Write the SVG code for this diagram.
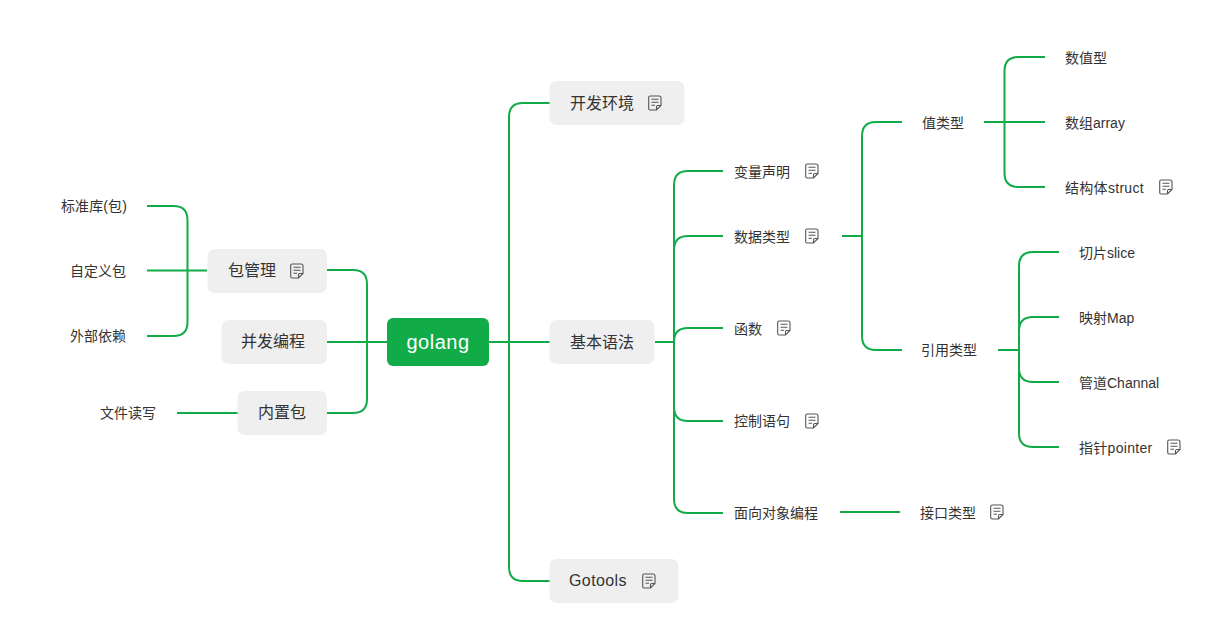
<svg xmlns="http://www.w3.org/2000/svg" width="1228" height="627" viewBox="0 0 1228 627">
<style>
text{font-family:"Liberation Sans","Noto Sans CJK SC",sans-serif;fill:#333;dominant-baseline:central}
.l1{font-size:16px}
.l2{font-size:14px}
.wide{letter-spacing:.3px}
.box{fill:#efefef}
.c{fill:none;stroke:#11ab47;stroke-width:2}
.ic{fill:none;stroke:#555;stroke-width:1.1}
</style>
<defs>
<g id="note">
<path class="ic" d="M-4.800-7H4Q6-7 6-5V2.500L1.500 7H-4.800Q-6.300 7-6.300 5.500V-5.500Q-6.300-7-4.800-7ZM-3.500-3.800H3.500M-3.500-.8H3.500M-3.500 2.200H0M6 2.500H2.800Q1.500 2.500 1.500 3.800V7"/>
</g>
</defs>
<rect width="1228" height="627" fill="#fff"/>
<g id="connectors">
<path class="c" d="M489 342H550M509 342V117Q509 103 523 103H550M509 342V567Q509 581 523 581H550"/>
<path class="c" d="M387 342H327M367 342V284Q367 270 353 270H327M367 342V399Q367 413 353 413H327"/>
<path class="c" d="M207 270.500H147M187.500 270.500V220Q187.500 206 173.500 206H147M187.500 270.500V322Q187.500 336 173.500 336H147M238 413H177"/>
<path class="c" d="M655 342H674M674 342V185Q674 171 688 171H723M674 342V250Q674 236 688 236H723M674 342Q674 328 688 328H723M674 342V407Q674 421 688 421H723M674 342V499Q674 513 688 513H723"/>
<path class="c" d="M842 236H862M862 236V136Q862 122 876 122H902M862 236V336Q862 350 876 350H902M840 512H900"/>
<path class="c" d="M984 122H1045M1004.500 122V71Q1004.500 57 1018.500 57H1045M1004.500 122V173Q1004.500 187 1018.500 187H1045"/>
<path class="c" d="M998 350H1019M1019 350V266Q1019 252 1033 252H1059M1019 350V331Q1019 317 1033 317H1059M1019 350V368Q1019 382 1033 382H1059M1019 350V433Q1019 447 1033 447H1059"/>
</g>
<g id="golang"><rect x="387" y="318" width="102" height="48" rx="6" fill="#11ab47"/><text x="438" y="342" font-size="20" letter-spacing=".5" text-anchor="middle" style="fill:#fff">golang</text></g>
<g id="kaifa"><rect class="box" x="549.500" y="81" width="135" height="44" rx="7"/><text class="l1" x="570" y="103">开发环境</text><use href="#note" x="655" y="103"/></g>
<g id="jiben"><rect class="box" x="549.500" y="320" width="105" height="44" rx="7"/><text class="l1" x="570" y="342">基本语法</text></g>
<g id="gotools"><rect class="box" x="549.500" y="559" width="129" height="44" rx="7"/><text class="l1" x="569" y="580" letter-spacing=".4">Gotools</text><use href="#note" x="649" y="581"/></g>
<g id="baoguanli"><rect class="box" x="207.500" y="249" width="119.500" height="44" rx="7"/><text class="l1" x="228" y="270">包管理</text><use href="#note" x="297" y="271"/></g>
<g id="bingfa"><rect class="box" x="221.500" y="320" width="105.500" height="44" rx="7"/><text class="l1" x="241" y="341">并发编程</text></g>
<g id="neizhi"><rect class="box" x="237.500" y="391" width="89.500" height="44" rx="7"/><text class="l1" x="258" y="412">内置包</text></g>
<g id="biaozhunku"><text class="l2" x="61" y="205.500" letter-spacing=".1">标准库(包)</text></g>
<g id="zidingyi"><text class="l2" x="70" y="271">自定义包</text></g>
<g id="waibu"><text class="l2" x="70" y="336">外部依赖</text></g>
<g id="wenjian"><text class="l2" x="100" y="413">文件读写</text></g>
<g id="bianliang"><text class="l2" x="734" y="171.500">变量声明</text><use href="#note" x="812" y="171"/></g>
<g id="shuju"><text class="l2" x="734" y="236.500">数据类型</text><use href="#note" x="812" y="236"/></g>
<g id="hanshu"><text class="l2" x="734" y="328.500">函数</text><use href="#note" x="784" y="328"/></g>
<g id="kongzhi"><text class="l2" x="734" y="421">控制语句</text><use href="#note" x="812" y="421"/></g>
<g id="mianxiang"><text class="l2" x="734" y="512.500">面向对象编程</text></g>
<g id="jiekou"><text class="l2" x="920" y="512.500">接口类型</text><use href="#note" x="997" y="512"/></g>
<g id="zhileixing"><text class="l2" x="922" y="122.500">值类型</text></g>
<g id="yinyong"><text class="l2" x="921" y="350">引用类型</text></g>
<g id="shuzhi"><text class="l2" x="1065" y="57.500">数值型</text></g>
<g id="shuzu"><text class="l2" x="1065" y="122.500">数组array</text></g>
<g id="jiegou"><text class="l2 wide" x="1065" y="187.500">结构体struct</text><use href="#note" x="1166" y="187"/></g>
<g id="qiepian"><text class="l2" x="1079" y="252.500">切片slice</text></g>
<g id="yingshe"><text class="l2" x="1079" y="317.500">映射Map</text></g>
<g id="guandao"><text class="l2" x="1079" y="382.500">管道Channal</text></g>
<g id="zhizhen"><text class="l2 wide" x="1079" y="447.500">指针pointer</text><use href="#note" x="1174" y="447"/></g>
</svg>
